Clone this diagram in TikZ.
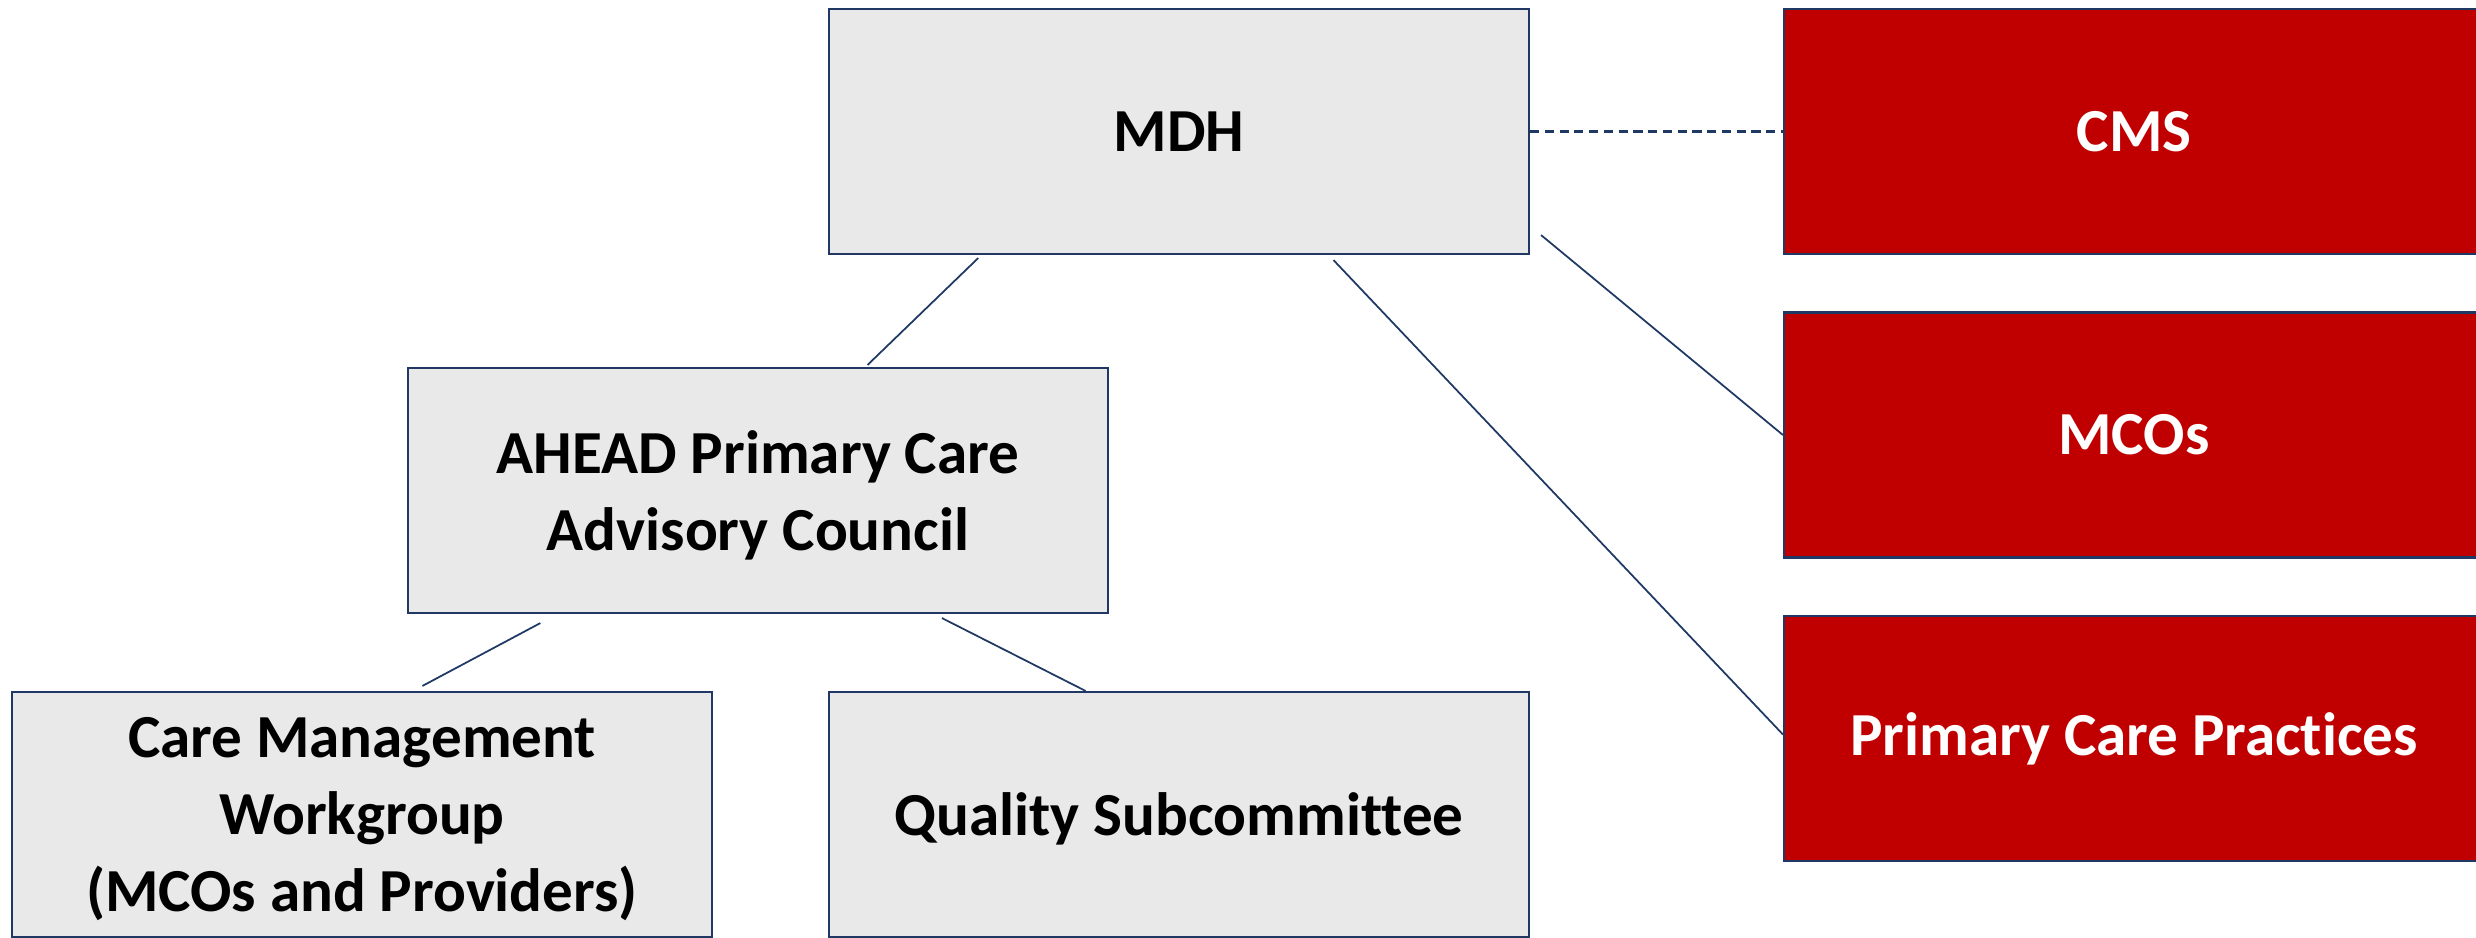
\documentclass[tikz,border=0pt]{standalone}
\usepackage{fontspec}
\setmainfont[Ligatures=NoCommon]{Carlito}
\usepackage{tikz}
\usetikzlibrary{calc}
\definecolor{boxgray}{HTML}{E9E9E9}
\definecolor{boxred}{HTML}{C00000}
\definecolor{linenavy}{HTML}{1F3864}
\pgfmathsetmacro{\boxW}{7.0}
\pgfmathsetmacro{\boxH}{2.45}
\tikzset{
	orgbox/.style= {
		shape=rectangle, draw=linenavy, line width=0.6pt,
		minimum width=\boxW cm, minimum height=\boxH cm,
		inner sep=0, align=center,
		font=\bfseries\fontsize{17.4}{21.8}\selectfont
	},
	greybox/.style= {orgbox, fill=boxgray, text=black, text depth=0pt},
	redbox/.style= {orgbox, fill=boxred, text=white},
	link/.style= {draw=linenavy, line width=0.5pt}
}
\begin{document}
\begin{tikzpicture}
\useasboundingbox (0,0) rectangle (24.76,-9.37);
\clip (0,0) rectangle (24.76,-9.37);
% left side
\node[greybox] (mdh) at (11.79,-1.315) {MDH};
\node[greybox] (ahead) at (7.58,-4.905) {AHEAD Primary Care\\Advisory Council};
\node[greybox] (cmw) at (3.62,-8.145) {Care Management\\Workgroup\\(MCOs and Providers)};
\node[greybox] (qual) at (11.79,-8.145) {Quality Subcommittee};

% right column
\foreach \name/\txt [count=\k from 0] in {cms/CMS, mcos/MCOs, pcp/Primary Care Practices}{%
	\node[redbox] (\name) at (21.34,{-1.315-\k*3.035}) {\txt};
}

% connectors
\draw[link, line width=0.7pt, dash pattern=on 2.6pt off 1.6pt] (mdh.east) -- (cms.west);
\draw[link] ($(mdh.south west)!.214!(mdh.south east)+(0,-0.03)$) -- ($(ahead.north west)!.656!(ahead.north east)+(0,0.02)$);
\draw[link] ($(mdh.south east)+(0.11,0.2)$) -- (mcos.west);
\draw[link] ($(mdh.south west)!.72!(mdh.south east)+(0,-0.05)$) -- ($(pcp.west)+(0,0.04)$);
\draw[link] ($(ahead.south west)!.19!(ahead.south east)+(0,-0.09)$) -- ($(cmw.north west)!.586!(cmw.north east)+(0,0.05)$);
\draw[link] ($(ahead.south west)!.762!(ahead.south east)+(0,-0.04)$) -- ($(qual.north west)!.367!(qual.north east)$);
\end{tikzpicture}
\end{document}
